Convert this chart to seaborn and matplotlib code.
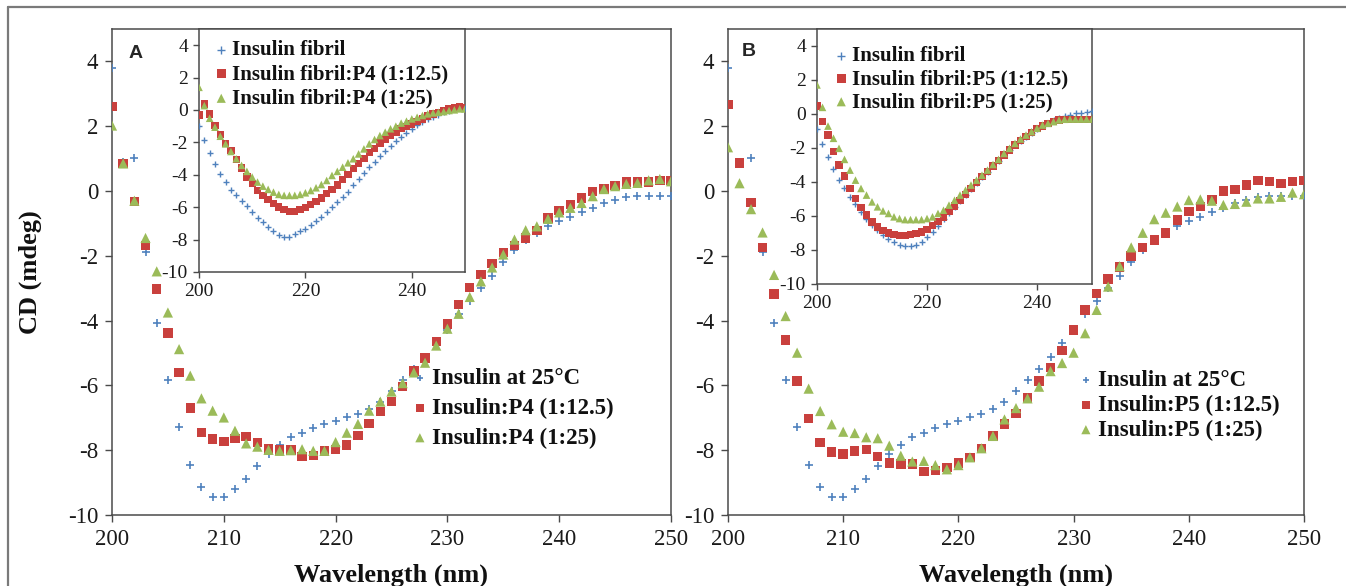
import numpy as np
import pandas as pd
import matplotlib
matplotlib.use("Agg")
import matplotlib.pyplot as plt
from matplotlib.lines import Line2D
import seaborn as sns

sns.set_style("white")
plt.rcParams['font.family'] = ['Liberation Serif', 'DejaVu Serif']
plt.rcParams['axes.unicode_minus'] = False

# ---------------- data ----------------
wavelength = list(range(200, 251))

# main panels (CD, mdeg)
insulin_25C = [3.8, 0.9, 1.02, -1.88, -4.08, -5.82, -7.28, -8.47, -9.15, -9.45,
               -9.44, -9.2, -8.89, -8.5, -8.12, -7.83, -7.58, -7.46, -7.31, -7.19,
               -7.09, -6.97, -6.88, -6.73, -6.5, -6.17, -5.83, -5.5, -5.13, -4.7,
               -4.29, -3.81, -3.4, -2.99, -2.62, -2.2, -1.82, -1.52, -1.29, -1.09,
               -0.93, -0.8, -0.66, -0.54, -0.36, -0.28, -0.18, -0.15, -0.15, -0.15,
               -0.15]
insulin_P4_12_5 = [2.6, 0.85, -0.33, -1.69, -3.03, -4.38, -5.6, -6.7, -7.45, -7.65,
                   -7.73, -7.63, -7.58, -7.77, -7.96, -7.99, -7.99, -8.2, -8.17, -8.02,
                   -7.97, -7.84, -7.55, -7.17, -6.8, -6.5, -6.03, -5.55, -5.16, -4.65,
                   -4.1, -3.5, -2.97, -2.58, -2.24, -1.89, -1.69, -1.45, -1.22, -0.83,
                   -0.61, -0.42, -0.21, -0.01, 0.06, 0.17, 0.28, 0.28, 0.28, 0.32,
                   0.32]
insulin_P4_25 = [2.02, 0.85, -0.3, -1.45, -2.48, -3.75, -4.88, -5.7, -6.4, -6.78,
                 -6.99, -7.4, -7.79, -7.89, -7.99, -8.02, -8.0, -7.97, -8.02, -8.02,
                 -7.75, -7.46, -7.19, -6.78, -6.5, -6.19, -5.93, -5.6, -5.3, -4.77,
                 -4.25, -3.79, -3.27, -2.79, -2.36, -1.96, -1.5, -1.21, -1.09, -0.86,
                 -0.66, -0.52, -0.37, -0.16, 0.06, 0.15, 0.22, 0.25, 0.33, 0.37,
                 0.3]
insulin_P5_12_5 = [2.67, 0.86, -0.36, -1.75, -3.18, -4.6, -5.86, -7.02, -7.76, -8.05,
                   -8.12, -8.02, -7.98, -8.2, -8.39, -8.43, -8.43, -8.66, -8.63, -8.53,
                   -8.39, -8.22, -7.94, -7.56, -7.19, -6.86, -6.38, -5.87, -5.45, -4.93,
                   -4.29, -3.67, -3.16, -2.72, -2.34, -2.0, -1.75, -1.51, -1.29, -0.9,
                   -0.64, -0.48, -0.26, 0.0, 0.05, 0.19, 0.32, 0.29, 0.24, 0.29,
                   0.32]
insulin_P5_25 = [1.35, 0.24, -0.56, -1.28, -2.59, -3.86, -4.99, -6.1, -6.79, -7.2,
                 -7.43, -7.47, -7.6, -7.63, -7.86, -8.17, -8.35, -8.33, -8.46, -8.59,
                 -8.46, -8.22, -7.94, -7.56, -7.05, -6.7, -6.4, -6.04, -5.56, -5.31,
                 -4.99, -4.39, -3.67, -2.95, -2.32, -1.74, -1.29, -0.87, -0.67, -0.48,
                 -0.28, -0.26, -0.3, -0.43, -0.4, -0.33, -0.23, -0.23, -0.18, -0.05,
                 -0.1]

# insets (fibrils)
fibril_A = [-0.96, -1.84, -2.64, -3.32, -3.94, -4.45, -4.92, -5.27, -5.64, -5.95,
            -6.3, -6.67, -6.92, -7.23, -7.49, -7.7, -7.84, -7.84, -7.64, -7.49,
            -7.33, -7.12, -6.88, -6.61, -6.3, -5.99, -5.68, -5.38, -5.07, -4.66,
            -4.29, -3.88, -3.53, -3.18, -2.81, -2.5, -2.2, -1.9, -1.65, -1.4,
            -1.15, -0.95, -0.75, -0.58, -0.42, -0.28, -0.15, -0.05, 0.05, 0.1,
            0.15]
fibril_P4_12_5 = [-0.3, 0.38, -0.24, -0.96, -1.53, -2.05, -2.5, -3.07, -3.59, -4.14,
                  -4.55, -4.97, -5.27, -5.52, -5.79, -5.99, -6.14, -6.26, -6.26, -6.16,
                  -6.03, -5.85, -5.64, -5.44, -5.17, -4.9, -4.62, -4.29, -3.98, -3.63,
                  -3.32, -3.01, -2.64, -2.36, -2.03, -1.78, -1.58, -1.37, -1.16, -1.0,
                  -0.86, -0.71, -0.55, -0.38, -0.24, -0.14, -0.03, 0.07, 0.17, 0.23,
                  0.17]
fibril_P4_25 = [1.4, 0.27, -0.51, -1.06, -1.62, -2.09, -2.56, -3.01, -3.42, -3.79,
                -4.14, -4.45, -4.7, -4.9, -5.07, -5.21, -5.27, -5.27, -5.27, -5.21,
                -5.11, -4.97, -4.8, -4.6, -4.35, -4.04, -3.79, -3.53, -3.26, -3.01,
                -2.71, -2.4, -2.09, -1.82, -1.58, -1.37, -1.16, -1.0, -0.81, -0.69,
                -0.55, -0.45, -0.34, -0.24, -0.18, -0.14, -0.1, -0.03, 0.01, 0.07,
                0.07]
fibril_B = [-0.9, -1.77, -2.55, -3.26, -3.89, -4.38, -4.87, -5.3, -5.75, -6.15,
            -6.5, -6.85, -7.1, -7.35, -7.55, -7.7, -7.78, -7.78, -7.7, -7.5,
            -7.25, -6.95, -6.6, -6.2, -5.8, -5.45, -5.1, -4.75, -4.4, -4.05,
            -3.7, -3.4, -3.06, -2.75, -2.42, -2.12, -1.83, -1.57, -1.34, -1.1,
            -0.86, -0.68, -0.5, -0.36, -0.24, -0.12, -0.04, 0.03, 0.08, 0.12,
            0.15]
fibril_P5_12_5 = [0.47, -0.45, -1.24, -2.22, -3.0, -3.65, -4.38, -4.97, -5.5, -5.95,
                  -6.35, -6.64, -6.84, -6.99, -7.07, -7.13, -7.13, -7.07, -7.03, -6.94,
                  -6.78, -6.54, -6.31, -6.05, -5.72, -5.42, -5.07, -4.72, -4.38, -4.03,
                  -3.69, -3.4, -3.06, -2.75, -2.42, -2.12, -1.83, -1.57, -1.34, -1.1,
                  -0.84, -0.71, -0.55, -0.45, -0.35, -0.31, -0.31, -0.31, -0.31, -0.31,
                  -0.31]
fibril_P5_25 = [1.71, 0.39, -0.71, -1.43, -2.02, -2.67, -3.3, -3.89, -4.38, -4.77,
                -5.17, -5.46, -5.7, -5.85, -6.05, -6.15, -6.21, -6.21, -6.21, -6.21,
                -6.15, -6.05, -5.85, -5.66, -5.36, -5.07, -4.77, -4.48, -4.18, -3.89,
                -3.6, -3.3, -2.97, -2.67, -2.32, -2.02, -1.73, -1.47, -1.24, -1.04,
                -0.84, -0.65, -0.55, -0.45, -0.35, -0.31, -0.3, -0.3, -0.3, -0.3,
                -0.3]

main_labels_A = ["Insulin at 25°C", "Insulin:P4 (1:12.5)", "Insulin:P4 (1:25)"]
main_labels_B = ["Insulin at 25°C", "Insulin:P5 (1:12.5)", "Insulin:P5 (1:25)"]
inset_labels_A = ["Insulin fibril", "Insulin fibril:P4 (1:12.5)", "Insulin fibril:P4 (1:25)"]
inset_labels_B = ["Insulin fibril", "Insulin fibril:P5 (1:12.5)", "Insulin fibril:P5 (1:25)"]

x_ticks = [200, 210, 220, 230, 240, 250]
inset_x_ticks = [200, 220, 240]
y_ticks = [-10, -8, -6, -4, -2, 0, 2, 4]

# ---------------- style ----------------
BLUE = "#4F81BD"
RED = "#C9403D"
GREEN = "#9BBB59"
SPINE = "#4a4a4a"

W, H = 1346, 586
fig = plt.figure(figsize=(W / 100, H / 100), dpi=100)


def px_axes(x0, x1, ytop, ybot):
    return [x0 / W, 1 - ybot / H, (x1 - x0) / W, (ybot - ytop) / H]


def draw(ax, series, labels, sizes, lw_plus):
    df = pd.DataFrame({"wl": wavelength, "s0": series[0], "s1": series[1], "s2": series[2]})
    sns.scatterplot(data=df, x="wl", y="s0", ax=ax, marker="+", color=BLUE,
                    s=sizes[0], linewidth=lw_plus, label=labels[0], legend=False, zorder=3)
    sns.scatterplot(data=df, x="wl", y="s1", ax=ax, marker="s", color=RED,
                    s=sizes[1], linewidth=0, edgecolor="none", label=labels[1],
                    legend=False, zorder=4)
    sns.scatterplot(data=df, x="wl", y="s2", ax=ax, marker="^", color=GREEN,
                    s=sizes[2], linewidth=0, edgecolor="none", label=labels[2],
                    legend=False, zorder=5)


def style_axes(ax, xt, fs, ticklen, pad):
    ax.set_xlim(200, 250)
    ax.set_ylim(-10, 5)
    ax.set_xticks(xt)
    ax.set_yticks(y_ticks)
    ax.tick_params(axis="both", direction="out", length=ticklen, width=1.0,
                   color=SPINE, labelsize=fs, labelcolor="#1a1a1a", pad=pad,
                   bottom=True, left=True, top=False, right=False)
    for sp in ax.spines.values():
        sp.set_color(SPINE)
        sp.set_linewidth(1.1)
        sp.set_visible(True)
    ax.set_xlabel("")
    ax.set_ylabel("")


def place_legend(ax, xleft, ytop, fs, spacing, mscale):
    leg = ax.legend(loc="upper left", bbox_to_anchor=(xleft / W, 1 - ytop / H),
                    bbox_transform=fig.transFigure, frameon=False, borderpad=0,
                    borderaxespad=0, handlelength=0.6, handletextpad=0.22,
                    labelspacing=spacing, markerscale=mscale,
                    prop={"family": "Liberation Serif", "weight": "bold", "size": fs})
    for t in leg.get_texts():
        t.set_color("#111111")
    return leg


axA = fig.add_axes(px_axes(112, 671, 29, 515))
axB = fig.add_axes(px_axes(728, 1304, 29, 515))
insA = fig.add_axes(px_axes(199, 465, 29, 272))
insB = fig.add_axes(px_axes(817, 1092, 29, 284))

draw(axA, [insulin_25C, insulin_P4_12_5, insulin_P4_25], main_labels_A, (30, 46, 54), 1.2)
draw(axB, [insulin_25C, insulin_P5_12_5, insulin_P5_25], main_labels_B, (30, 46, 54), 1.2)
draw(insA, [fibril_A, fibril_P4_12_5, fibril_P4_25], inset_labels_A, (20, 28, 30), 1.0)
draw(insB, [fibril_B, fibril_P5_12_5, fibril_P5_25], inset_labels_B, (20, 28, 30), 1.0)

for ax in (axA, axB):
    style_axes(ax, x_ticks, 16.5, 5, 5)
for ax in (insA, insB):
    style_axes(ax, inset_x_ticks, 14, 4, 4)
    ax.set_facecolor("white")

place_legend(axA, 413, 368, 16.5, 0.38, 0.9)
place_legend(axB, 1079, 370, 16.5, 0.16, 0.9)
place_legend(insA, 215, 40, 15, 0.21, 1.2)
place_legend(insB, 835, 46, 15, 0.15, 1.2)

# axis labels
for ax in (axA, axB):
    ax.set_xlabel("Wavelength (nm)", fontsize=19, fontweight="bold", color="#111111")
    ax.xaxis.label.set_va("center")
    ax.xaxis.set_label_coords(0.5, (515 - 575) / 486)
axA.set_ylabel("CD (mdeg)", fontsize=19, fontweight="bold", color="#111111")
axA.yaxis.label.set_va("center")
axA.yaxis.set_label_coords((30 - 112) / 559, 0.5)

# panel letters
fig.text(136 / W, 1 - 53 / H, "A", fontsize=14, fontweight="bold",
         family=["Liberation Sans", "DejaVu Sans"], ha="center", va="center")
fig.text(749 / W, 1 - 52 / H, "B", fontsize=14, fontweight="bold",
         family=["Liberation Sans", "DejaVu Sans"], ha="center", va="center")

# outer frame (top and left edges visible)
fig.add_artist(Line2D([8 / W, 8 / W], [0, 1 - 7 / H], transform=fig.transFigure,
                      color="#7a7a7a", linewidth=1.6))
fig.add_artist(Line2D([8 / W, 1], [1 - 7 / H, 1 - 7 / H], transform=fig.transFigure,
                      color="#7a7a7a", linewidth=1.6))

fig.savefig("out.png", dpi=100, facecolor="white")
